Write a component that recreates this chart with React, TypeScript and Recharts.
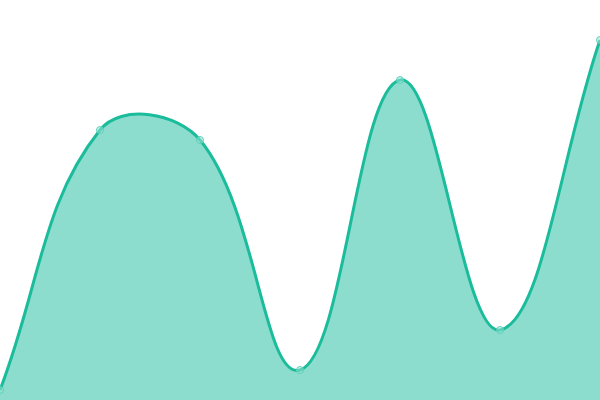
import { AreaChart, Area, XAxis, YAxis } from "recharts";

const categories = ["A", "B", "C", "D", "E", "F", "G"];
const values = [10, 270, 260, 30, 320, 70, 360];

const data = categories.map((name, i) => ({ name, value: values[i] }));

// spline like Chart.js (tension 0.4): control points scaled by neighbour distances
const splineCurve = (context: any) => {
    const tension = 0.4;
    let pts: number[][] = [];
    let line = NaN;

    const controls = (i: number) => {
        const cur = pts[i];
        const prev = pts[i - 1] || cur;
        const next = pts[i + 1] || cur;
        const d01 = Math.hypot(cur[0] - prev[0], cur[1] - prev[1]);
        const d12 = Math.hypot(next[0] - cur[0], next[1] - cur[1]);
        let s01 = d01 / (d01 + d12);
        let s12 = d12 / (d01 + d12);
        if (isNaN(s01)) s01 = 0;
        if (isNaN(s12)) s12 = 0;
        const fa = tension * s01;
        const fb = tension * s12;
        return {
            px: cur[0] - fa * (next[0] - prev[0]),
            py: cur[1] - fa * (next[1] - prev[1]),
            nx: cur[0] + fb * (next[0] - prev[0]),
            ny: cur[1] + fb * (next[1] - prev[1]),
        };
    };

    return {
        areaStart() { line = 0; },
        areaEnd() { line = NaN; },
        lineStart() { pts = []; },
        point(x: number, y: number) { pts.push([+x, +y]); },
        lineEnd() {
            const n = pts.length;
            if (n) {
                if (line) context.lineTo(pts[0][0], pts[0][1]);
                else context.moveTo(pts[0][0], pts[0][1]);
                for (let i = 0; i < n - 1; i++) {
                    const a = controls(i);
                    const b = controls(i + 1);
                    context.bezierCurveTo(a.nx, a.ny, b.px, b.py, pts[i + 1][0], pts[i + 1][1]);
                }
            }
            if (line || (line !== 0 && n === 1)) context.closePath();
            line = 1 - line;
        },
    };
};

const App = () => {
    return (
        <div style={{ position: "fixed", top: 0, left: 0, width: 600, height: 400, background: "#fff" }}>
            <AreaChart width={600} height={400} data={data} margin={{ top: 0, right: 0, bottom: 0, left: 0 }}>
                <XAxis dataKey="name" hide padding={{ left: 0, right: 0 }} />
                <YAxis hide domain={[0, 400]} />
                <Area
                    type={splineCurve as any}
                    dataKey="value"
                    stroke="#1abc9c"
                    strokeWidth={3}
                    fill="#1abc9c"
                    fillOpacity={0.5}
                    dot={{ r: 3.5, fill: "#9be5d6", stroke: "#5ccfb9", strokeWidth: 1 }}
                    activeDot={false}
                    isAnimationActive={false}
                />
            </AreaChart>
        </div>
    );
};

export default App;
